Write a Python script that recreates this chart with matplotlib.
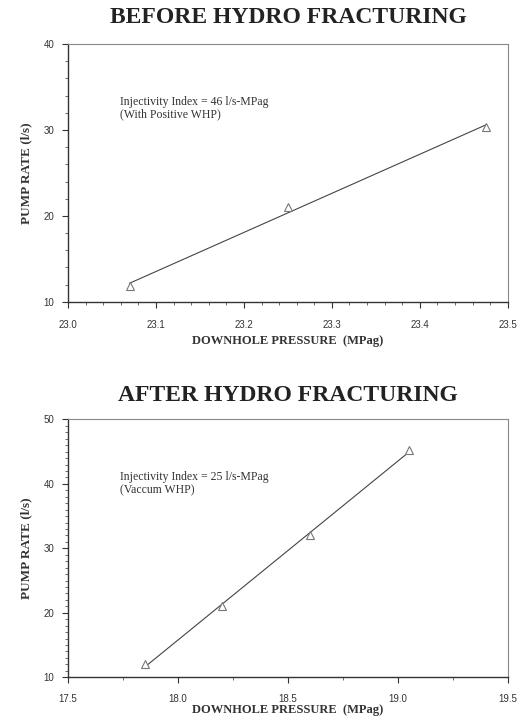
import numpy as np
import matplotlib
matplotlib.use("Agg")
import matplotlib.pyplot as plt
from matplotlib.ticker import MultipleLocator, FormatStrFormatter

# Data
before_pressure = [23.07, 23.25, 23.475]
before_rate = [11.8, 21.0, 30.3]
after_pressure = [17.85, 18.20, 18.60, 19.05]
after_rate = [12.0, 21.0, 32.0, 45.3]

titles = ["BEFORE HYDRO FRACTURING", "AFTER HYDRO FRACTURING"]
notes = ["Injectivity Index = 46 l/s-MPag\n(With Positive WHP)",
         "Injectivity Index = 25 l/s-MPag\n(Vaccum WHP)"]
xlabel = "DOWNHOLE PRESSURE  (MPag)"
ylabel = "PUMP RATE (l/s)"

fig = plt.figure(figsize=(5.23, 7.22), dpi=100)
serif = ["Liberation Serif", "DejaVu Serif"]

specs = [
    dict(rect=[0.130, 0.582, 0.841, 0.357], x=before_pressure, y=before_rate,
         xlim=(23.0, 23.5), ylim=(10, 40), xmaj=0.1, xmin=0.02, ymaj=10, ymin=2,
         xfmt="%.1f", xpad=9, lpad=4, tpad=15),
    dict(rect=[0.130, 0.062, 0.841, 0.357], x=after_pressure, y=after_rate,
         xlim=(17.5, 19.5), ylim=(10, 50), xmaj=0.5, xmin=0.25, ymaj=10, ymin=1,
         xfmt="%.1f", xpad=8, lpad=0, tpad=13),
]

for i, s in enumerate(specs):
    ax = fig.add_axes(s["rect"])
    x = np.array(s["x"]); y = np.array(s["y"])
    m, b = np.polyfit(x, y, 1)
    xx = np.array([x.min(), x.max()])
    ax.plot(xx, m * xx + b, color="#444444", lw=0.8)
    ax.plot(x, y, linestyle="none", marker="^", markersize=5.5, mfc="white",
            mec="#777777", mew=0.8)
    ax.set_xlim(*s["xlim"]); ax.set_ylim(*s["ylim"])
    ax.xaxis.set_major_locator(MultipleLocator(s["xmaj"]))
    ax.xaxis.set_minor_locator(MultipleLocator(s["xmin"]))
    ax.yaxis.set_major_locator(MultipleLocator(s["ymaj"]))
    ax.yaxis.set_minor_locator(MultipleLocator(s["ymin"]))
    ax.xaxis.set_major_formatter(FormatStrFormatter(s["xfmt"]))
    ax.tick_params(which="major", direction="out", length=4, width=0.8,
                   labelsize=7, colors="#333333", pad=6)
    ax.tick_params(axis="x", which="major", pad=s["xpad"])
    ax.tick_params(which="minor", direction="out", length=2, width=0.6,
                   colors="#555555")
    for lab in ax.get_xticklabels() + ax.get_yticklabels():
        lab.set_family(["Liberation Sans", "DejaVu Sans"])
    for side in ["left", "bottom"]:
        ax.spines[side].set_color("#333333"); ax.spines[side].set_linewidth(1.0)
    for side in ["top", "right"]:
        ax.spines[side].set_color("#888888"); ax.spines[side].set_linewidth(0.8)
    ax.set_title(titles[i], family=serif, fontweight="bold", fontsize=17,
                 color="#222222", pad=s["tpad"])
    ax.set_xlabel(xlabel, family=serif, fontweight="bold", fontsize=9,
                  color="#333333", labelpad=s["lpad"])
    ax.set_ylabel(ylabel, family=serif, fontweight="bold", fontsize=9.5,
                  color="#333333", labelpad=8)
    ax.text(0.118, 0.80, notes[i], transform=ax.transAxes, family=serif,
            fontsize=8.5, va="top", ha="left", color="#333333", linespacing=1.1)

fig.savefig("out.png", dpi=100, facecolor="white")
